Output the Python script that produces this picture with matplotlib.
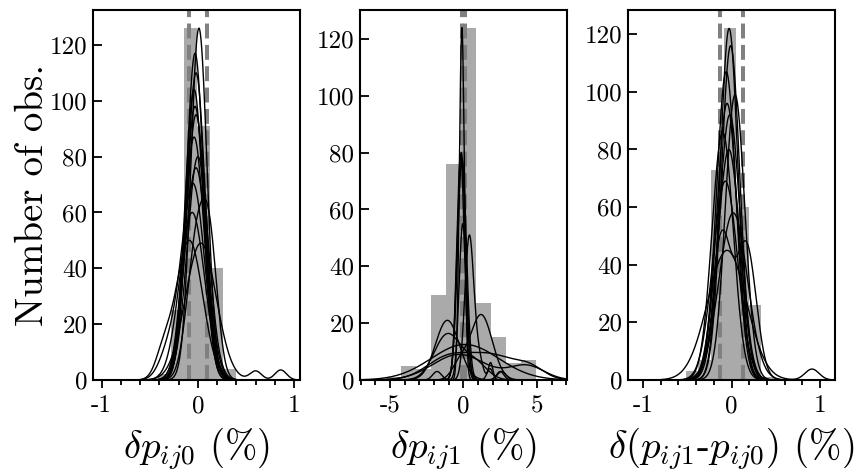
import numpy as np
import matplotlib
matplotlib.use("Agg")
import matplotlib.pyplot as plt
from matplotlib.ticker import MultipleLocator

plt.rcParams.update({
    "font.family": "serif",
    "font.serif": ["cmr10"],
    "mathtext.fontset": "cm",
    "axes.unicode_minus": False,
    "axes.formatter.use_mathtext": False,
})

# ---- histogram data (bin edges and counts) ----
edges_p0 = [-0.41, -0.275, -0.14, -0.005, 0.13, 0.265, 0.40]
counts_p0 = [2, 25, 126, 91, 40, 4]

edges_p1 = [-5.27, -4.25, -3.23, -2.21, -1.19, -0.18, 0.84, 1.86, 2.88, 3.90, 4.91]
counts_p1 = [1, 5, 4, 30, 76, 124, 27, 15, 6, 7]

edges_pd = [-0.518, -0.375, -0.233, -0.09, 0.053, 0.195, 0.338, 0.48]
counts_pd = [3, 7, 73, 122, 60, 26, 1]

# ---- threshold lines ----
thr_p0 = [-0.09, 0.09]
thr_p1 = [-0.09, 0.09]
thr_pd = [-0.125, 0.125]

# ---- kernel density curves: each curve is a list of (centre, height, bandwidth) ----
kde_p0 = [
    [(0.01, 126, 0.085)],
    [(-0.03, 117, 0.09)],
    [(-0.02, 110, 0.095)],
    [(-0.04, 104, 0.095)],
    [(-0.03, 98, 0.10)],
    [(-0.02, 95, 0.10)],
    [(-0.04, 87, 0.105)],
    [(0.00, 80, 0.11)],
    [(-0.06, 60, 0.13)],
    [(-0.01, 50, 0.10), (0.13, 38, 0.08)],
    [(-0.09, 50, 0.14), (-0.36, 8, 0.08)],
    [(0.03, 49, 0.16), (0.60, 3.2, 0.06), (0.86, 3.6, 0.06)],
    [(-0.05, 70, 0.12), (-0.30, 10, 0.10)],
    [(-0.02, 76, 0.115)],
]

kde_p1 = [
    [(-0.11, 124, 0.17)],
    [(-0.15, 80, 0.28)],
    [(-0.20, 79, 0.26)],
    [(-0.10, 78, 0.30), (1.80, 4, 0.20)],
    [(0.39, 50, 0.30), (1.00, 8, 0.30), (1.85, 6, 0.15)],
    [(1.20, 23, 0.75), (-0.30, 5, 0.50)],
    [(-1.10, 21, 0.80), (2.60, 3, 0.30)],
    [(-1.10, 16, 0.90), (0.80, 6, 0.80)],
    [(0.10, 12.5, 2.3)],
    [(-1.00, 8, 1.5), (2.00, 8, 1.5), (4.50, 4, 1.0)],
    [(-0.30, 9, 1.8), (4.30, 5, 1.2)],
    [(-0.05, 55, 0.25), (-1.80, 3, 0.30), (2.50, 3, 0.25)],
]

kde_pd = [
    [(-0.027, 122, 0.10)],
    [(-0.01, 116, 0.105)],
    [(-0.06, 107, 0.11)],
    [(0.04, 99, 0.11)],
    [(-0.05, 96, 0.115)],
    [(-0.02, 92, 0.12)],
    [(-0.10, 86, 0.12)],
    [(-0.03, 80, 0.125)],
    [(-0.07, 69, 0.14)],
    [(0.02, 58, 0.16)],
    [(-0.11, 50, 0.11), (0.17, 46, 0.11)],
    [(-0.05, 45, 0.22), (0.91, 3.8, 0.08)],
]

panels = [
    dict(edges=edges_p0, counts=counts_p0, thr=thr_p0, kde=kde_p0,
         xlim=(-1.09, 1.06), ylim=(0, 132.5), major=1.0, minor=0.2,
         xlabel=r"$\delta p_{ij0}$ (%)"),
    dict(edges=edges_p1, counts=counts_p1, thr=thr_p1, kde=kde_p1,
         xlim=(-7.05, 7.05), ylim=(0, 130.2), major=5.0, minor=1.0,
         xlabel=r"$\delta p_{ij1}$ (%)"),
    dict(edges=edges_pd, counts=counts_pd, thr=thr_pd, kde=kde_pd,
         xlim=(-1.17, 1.17), ylim=(0, 128.4), major=1.0, minor=0.2,
         xlabel=r"$\delta(p_{ij1}$-$p_{ij0})$ (%)"),
]

fig = plt.figure(figsize=(8.57, 4.75), dpi=100)
lefts = [93 / 857, 360 / 857, 628 / 857]
width = 207 / 857
bottom = 95 / 475
height = 370 / 475

for i, p in enumerate(panels):
    ax = fig.add_axes([lefts[i], bottom, width, height])
    e = np.asarray(p["edges"])
    ax.bar(e[:-1], p["counts"], width=np.diff(e), align="edge",
           color="#aaaaaa", linewidth=0, zorder=1)
    for t in p["thr"]:
        ax.axvline(t, color="#808080", lw=2.9, ls="--", zorder=2)
    x = np.linspace(p["xlim"][0], p["xlim"][1], 1200)
    for comps in p["kde"]:
        y = np.zeros_like(x)
        for mu, h, s in comps:
            y += h * np.exp(-0.5 * ((x - mu) / s) ** 2)
        ax.plot(x, y, color="black", lw=1.0, zorder=3)

    ax.set_xlim(*p["xlim"])
    ax.set_ylim(*p["ylim"])
    ax.set_yticks(np.arange(0, 121, 20))
    ax.xaxis.set_major_locator(MultipleLocator(p["major"]))
    ax.xaxis.set_minor_locator(MultipleLocator(p["minor"]))
    ax.tick_params(axis="x", which="major", direction="out", length=6,
                   width=1.3, labelsize=18, pad=5)
    ax.tick_params(axis="x", which="minor", direction="out", length=3.5,
                   width=1.3)
    ax.tick_params(axis="y", which="major", direction="in", length=6.5,
                   width=1.3, labelsize=18, pad=4)
    for sp in ax.spines.values():
        sp.set_linewidth(1.5)
    ax.set_xlabel(p["xlabel"], fontsize=28, labelpad=6)
    if i == 0:
        ax.set_ylabel("Number of obs.", fontsize=28, labelpad=-1)

fig.savefig("out.png", dpi=100)
